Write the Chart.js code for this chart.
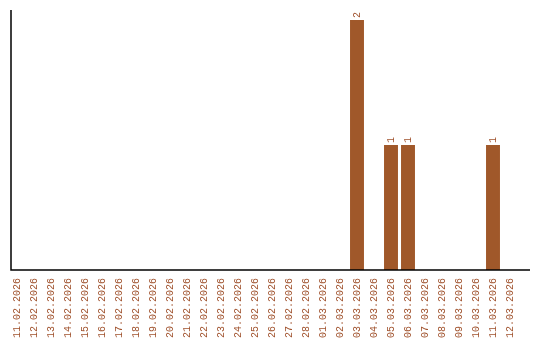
<!DOCTYPE html>
<html>
<head>
<meta charset="utf-8">
<script src="https://cdn.jsdelivr.net/npm/chart.js@4/dist/chart.umd.min.js"></script>
<style>
  body { margin: 0; background: #fff; }
</style>
</head>
<body>
<canvas id="myChart" width="540" height="340"></canvas>
<script>
// Chart data
const days = [
  "11.02.2026", "12.02.2026", "13.02.2026", "14.02.2026", "15.02.2026",
  "16.02.2026", "17.02.2026", "18.02.2026", "19.02.2026", "20.02.2026",
  "21.02.2026", "22.02.2026", "23.02.2026", "24.02.2026", "25.02.2026",
  "26.02.2026", "27.02.2026", "28.02.2026", "01.03.2026", "02.03.2026",
  "03.03.2026", "04.03.2026", "05.03.2026", "06.03.2026", "07.03.2026",
  "08.03.2026", "09.03.2026", "10.03.2026", "11.03.2026", "12.03.2026"
];
const counts = [
  0, 0, 0, 0, 0, 0, 0, 0, 0, 0,
  0, 0, 0, 0, 0, 0, 0, 0, 0, 0,
  2, 0, 1, 1, 0, 0, 0, 0, 1, 0
];

const barColor = '#a0582a';
const textColor = '#a0522d';
const monoFont = '"Liberation Mono", "DejaVu Sans Mono", monospace';

// Value labels on top of the bars, rotated
const valueLabels = {
  id: 'valueLabels',
  afterDatasetsDraw(chart) {
    const ctx = chart.ctx;
    const meta = chart.getDatasetMeta(0);
    ctx.save();
    ctx.fillStyle = textColor;
    ctx.font = '10px ' + monoFont;
    ctx.textAlign = 'left';
    ctx.textBaseline = 'middle';
    meta.data.forEach((bar, i) => {
      if (!counts[i]) return;
      ctx.save();
      ctx.translate(bar.x, bar.y - 2);
      ctx.rotate(-Math.PI / 2);
      ctx.fillText(String(counts[i]), 0, 0);
      ctx.restore();
    });
    ctx.restore();
  }
};

// Axis lines (left and bottom)
const axisLines = {
  id: 'axisLines',
  afterDraw(chart) {
    const { ctx, chartArea } = chart;
    ctx.save();
    ctx.strokeStyle = '#000';
    ctx.lineWidth = 1.5;
    ctx.beginPath();
    ctx.moveTo(chartArea.left + 2.5, chartArea.top);
    ctx.lineTo(chartArea.left + 2.5, chartArea.bottom);
    ctx.lineTo(chartArea.right + 11.5, chartArea.bottom);
    ctx.stroke();
    ctx.restore();
  }
};

const ctx = document.getElementById('myChart');

const myChart = new Chart(ctx, {
  type: 'bar',
  data: {
    labels: days,
    datasets: [{
      data: counts,
      backgroundColor: barColor,
      borderWidth: 0,
      barPercentage: 0.82,
      categoryPercentage: 1
    }]
  },
  options: {
    responsive: false,
    animation: false,
    layout: { padding: { left: 8.5, right: 21.5, top: 10, bottom: 0 } },
    plugins: {
      legend: { display: false },
      tooltip: { enabled: false }
    },
    scales: {
      x: {
        grid: { display: false, drawTicks: false },
        border: { display: false },
        afterFit(scale) { scale.height = 70; },
        ticks: {
          color: textColor,
          font: { family: monoFont, size: 10 },
          minRotation: 90,
          maxRotation: 90,
          padding: 8,
          autoSkip: false
        }
      },
      y: {
        min: 0,
        max: Math.max(...counts) * 1.04,
        display: false
      }
    }
  },
  plugins: [valueLabels, axisLines]
});
</script>
</body>
</html>
